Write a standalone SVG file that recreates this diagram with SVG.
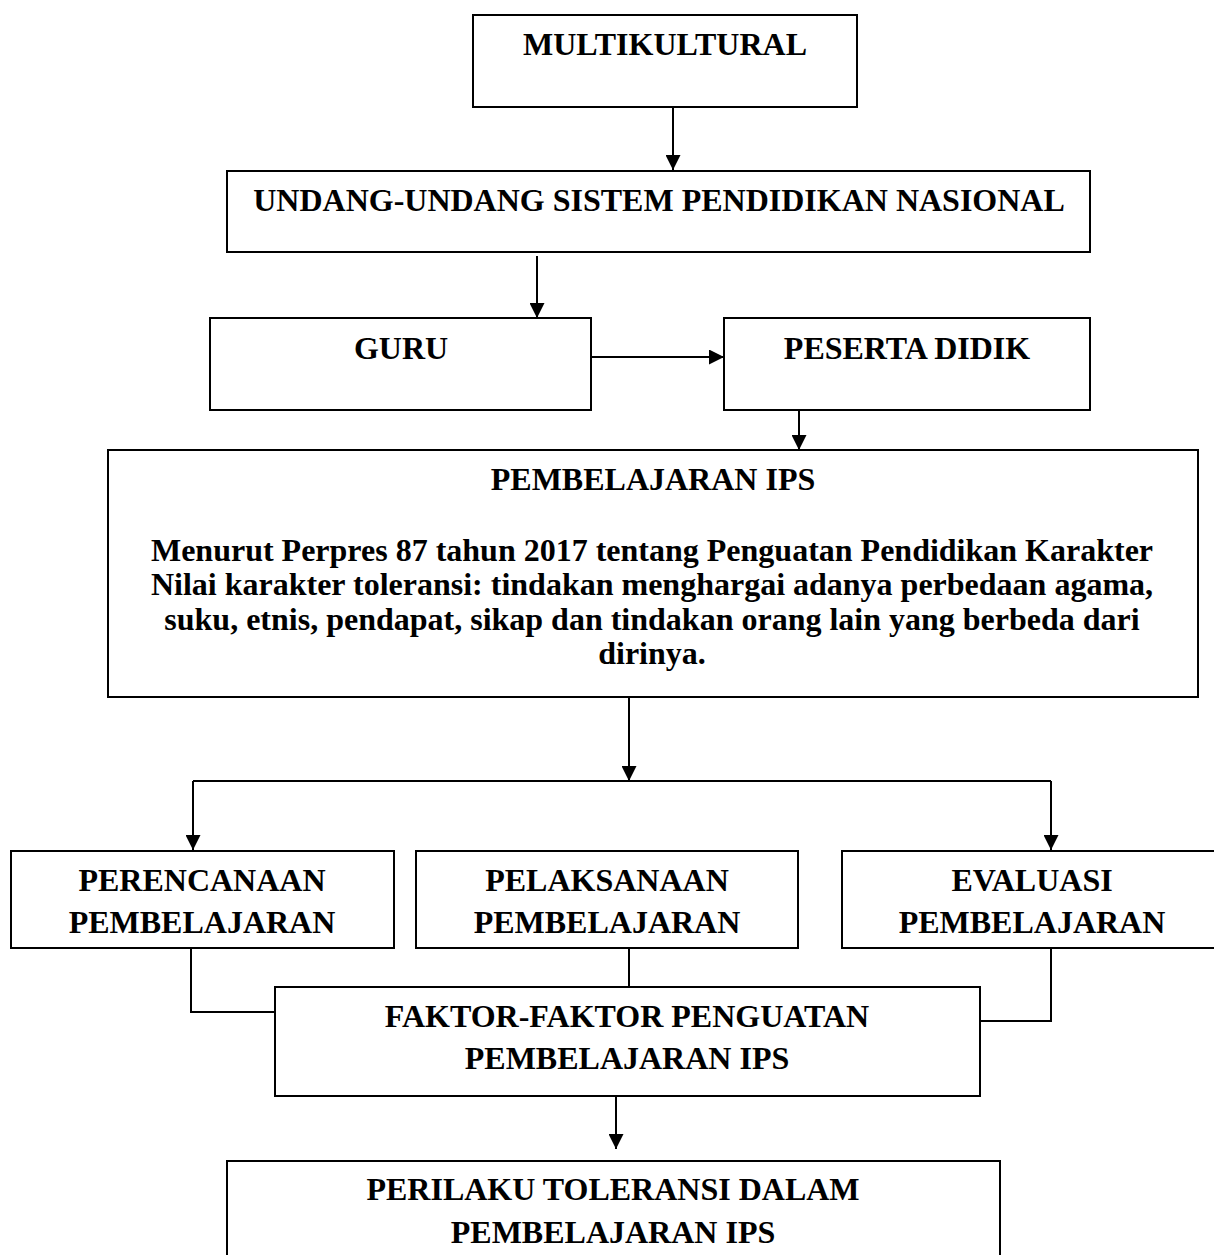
<svg xmlns="http://www.w3.org/2000/svg" width="1214" height="1255" viewBox="0 0 1214 1255">
<style>
.box{fill:#fff;stroke:#000;stroke-width:2}
.t{font-family:"Liberation Serif","Times New Roman",serif;font-weight:bold;font-size:32px;fill:#000;text-anchor:middle}
.c{fill:none;stroke:#000;stroke-width:2}
.a{fill:none;stroke:#000;stroke-width:2;marker-end:url(#ah)}
</style>
<defs>
<marker id="ah" markerUnits="userSpaceOnUse" markerWidth="15" markerHeight="15" refX="15" refY="7.5" orient="auto">
<path d="M0,0 L15,7.5 L0,15 z" fill="#000"/>
</marker>
</defs>
<rect width="1214" height="1255" fill="#fff"/>
<g id="connectors">
<line class="a" x1="673" y1="107" x2="673" y2="170"/>
<line class="a" x1="537" y1="256" x2="537" y2="318"/>
<line class="a" x1="591" y1="357" x2="724" y2="357"/>
<line class="a" x1="799" y1="410" x2="799" y2="450"/>
<line class="a" x1="629" y1="697" x2="629" y2="781"/>
<line class="c" x1="193" y1="781" x2="1051" y2="781"/>
<line class="a" x1="193" y1="781" x2="193" y2="850"/>
<line class="a" x1="1051" y1="781" x2="1051" y2="850"/>
<polyline class="c" points="191,948 191,1012 275,1012"/>
<line class="c" x1="629" y1="948" x2="629" y2="987"/>
<polyline class="c" points="1051,948 1051,1021 977,1021"/>
<line class="a" x1="616" y1="1096" x2="616" y2="1149"/>
</g>
<g id="multikultural">
<rect class="box" x="473" y="15" width="384" height="92"/>
<text class="t" x="665" y="55">MULTIKULTURAL</text>
</g>
<g id="undang">
<rect class="box" x="227" y="171" width="863" height="81"/>
<text class="t" x="659" y="211">UNDANG-UNDANG SISTEM PENDIDIKAN NASIONAL</text>
</g>
<g id="guru">
<rect class="box" x="210" y="318" width="381" height="92"/>
<text class="t" x="401" y="359">GURU</text>
</g>
<g id="peserta">
<rect class="box" x="724" y="318" width="366" height="92"/>
<text class="t" x="907" y="359">PESERTA DIDIK</text>
</g>
<g id="pembelajaran">
<rect class="box" x="108" y="450" width="1090" height="247"/>
<text class="t" x="653" y="490">PEMBELAJARAN IPS</text>
<text class="t" x="652" y="561">Menurut Perpres 87 tahun 2017 tentang Penguatan Pendidikan Karakter</text>
<text class="t" x="652" y="595">Nilai karakter toleransi: tindakan menghargai adanya perbedaan agama,</text>
<text class="t" x="652" y="630">suku, etnis, pendapat, sikap dan tindakan orang lain yang berbeda dari</text>
<text class="t" x="652" y="664">dirinya.</text>
</g>
<g id="perencanaan">
<rect class="box" x="11" y="851" width="383" height="97"/>
<text class="t" x="202" y="891">PERENCANAAN</text>
<text class="t" x="202" y="933">PEMBELAJARAN</text>
</g>
<g id="pelaksanaan">
<rect class="box" x="416" y="851" width="382" height="97"/>
<text class="t" x="607" y="891">PELAKSANAAN</text>
<text class="t" x="607" y="933">PEMBELAJARAN</text>
</g>
<g id="evaluasi">
<rect class="box" x="842" y="851" width="380" height="97"/>
<text class="t" x="1032" y="891">EVALUASI</text>
<text class="t" x="1032" y="933">PEMBELAJARAN</text>
</g>
<g id="faktor">
<rect class="box" x="275" y="987" width="705" height="109"/>
<text class="t" x="627" y="1027">FAKTOR-FAKTOR PENGUATAN</text>
<text class="t" x="627" y="1069">PEMBELAJARAN IPS</text>
</g>
<g id="perilaku">
<rect class="box" x="227" y="1161" width="773" height="120"/>
<text class="t" x="613" y="1200">PERILAKU TOLERANSI DALAM</text>
<text class="t" x="613" y="1243">PEMBELAJARAN IPS</text>
</g>
</svg>
